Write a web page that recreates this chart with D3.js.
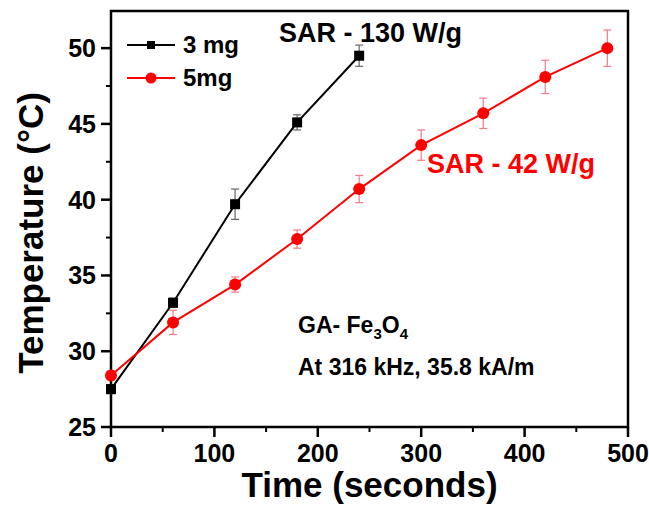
<!DOCTYPE html>
<html>
<head>
<meta charset="utf-8">
<script src="https://cdn.jsdelivr.net/npm/d3@7"></script>
<style>
  body { margin: 0; background: #fff; }
  text { font-family: "Liberation Sans", Arial, sans-serif; font-weight: bold; }
</style>
</head>
<body>
<svg id="chart" width="649" height="508"></svg>
<script>
// Donnees.
const timeValues = [0, 60, 120, 180, 240, 300, 360, 420, 480];
const temp3mg = [27.5, 33.2, 39.7, 45.1, 49.5];
const err3mg = [0.3, 0.3, 1.0, 0.5, 0.7];
const temp5mg = [28.4, 31.9, 34.4, 37.4, 40.7, 43.6, 45.7, 48.1, 50.0];
const err5mg = [0.3, 0.8, 0.5, 0.6, 0.9, 1.0, 1.0, 1.1, 1.2];
const xTicks = [0, 100, 200, 300, 400, 500];
const yTicks = [25, 30, 35, 40, 45, 50];

const svg = d3.select("#chart");
const margin = { left: 111, right: 21, top: 11, bottom: 81 };
const width = 649 - margin.left - margin.right;
const height = 508 - margin.top - margin.bottom;

const x = d3.scaleLinear().domain([0, 500]).range([margin.left, margin.left + width]);
const y = d3.scaleLinear().domain([25, 52.45]).range([margin.top + height, margin.top]);

function makeSeries(values, errors) {
    return values.map(function(v, i) {
        return { t: timeValues[i], v: v, e: errors[i] };
    });
}

const series = [
    { name: "3 mg", data: makeSeries(temp3mg, err3mg), color: "#000", errColor: "#666", shape: "square" },
    { name: "5mg", data: makeSeries(temp5mg, err5mg), color: "#f00", errColor: "#f27a8a", shape: "circle" }
];

// Cadre du graphique.
svg.append("rect")
    .attr("x", margin.left)
    .attr("y", margin.top)
    .attr("width", width)
    .attr("height", height)
    .attr("fill", "none")
    .attr("stroke", "#000")
    .attr("stroke-width", 2.5);

// Axe X : graduations majeures et mineures vers l'exterieur.
const xAxis = svg.append("g").attr("transform", "translate(0," + (margin.top + height) + ")");
xAxis.selectAll(".minor")
    .data(d3.range(50, 500, 100))
    .enter().append("line")
    .attr("x1", d => x(d)).attr("x2", d => x(d))
    .attr("y1", 0).attr("y2", 5)
    .attr("stroke", "#000").attr("stroke-width", 2);
xAxis.selectAll(".major")
    .data(xTicks)
    .enter().append("line")
    .attr("x1", d => x(d)).attr("x2", d => x(d))
    .attr("y1", 0).attr("y2", 10)
    .attr("stroke", "#000").attr("stroke-width", 2.5);
xAxis.selectAll(".tick-label")
    .data(xTicks)
    .enter().append("text")
    .attr("x", d => x(d))
    .attr("y", 35)
    .attr("text-anchor", "middle")
    .attr("font-size", 25)
    .text(d => d);

// Axe Y.
const yAxis = svg.append("g").attr("transform", "translate(" + margin.left + ",0)");
yAxis.selectAll(".minor")
    .data(d3.range(27.5, 52, 5))
    .enter().append("line")
    .attr("y1", d => y(d)).attr("y2", d => y(d))
    .attr("x1", 0).attr("x2", -5)
    .attr("stroke", "#000").attr("stroke-width", 2);
yAxis.selectAll(".major")
    .data(yTicks)
    .enter().append("line")
    .attr("y1", d => y(d)).attr("y2", d => y(d))
    .attr("x1", 0).attr("x2", -10)
    .attr("stroke", "#000").attr("stroke-width", 2.5);
yAxis.selectAll(".tick-label")
    .data(yTicks)
    .enter().append("text")
    .attr("x", -15)
    .attr("y", d => y(d))
    .attr("dy", "0.36em")
    .attr("text-anchor", "end")
    .attr("font-size", 25)
    .text(d => d);

// Titres des axes.
svg.append("text")
    .attr("x", x(250))
    .attr("y", 497)
    .attr("text-anchor", "middle")
    .attr("font-size", 35)
    .text("Time (seconds)");

svg.append("text")
    .attr("transform", "translate(43,233) rotate(-90)")
    .attr("text-anchor", "middle")
    .attr("font-size", 35)
    .text("Temperature (°C)");

// Courbes, barres d'erreur et marqueurs.
const line = d3.line().x(d => x(d.t)).y(d => y(d.v));

series.forEach(function(s) {
    const g = svg.append("g");

    const bars = g.selectAll(".err")
        .data(s.data)
        .enter().append("g")
        .attr("stroke", s.errColor)
        .attr("stroke-width", 1.2);
    bars.append("line")
        .attr("x1", d => x(d.t)).attr("x2", d => x(d.t))
        .attr("y1", d => y(d.v - d.e)).attr("y2", d => y(d.v + d.e));
    bars.append("line")
        .attr("x1", d => x(d.t) - 4).attr("x2", d => x(d.t) + 4)
        .attr("y1", d => y(d.v - d.e)).attr("y2", d => y(d.v - d.e));
    bars.append("line")
        .attr("x1", d => x(d.t) - 4).attr("x2", d => x(d.t) + 4)
        .attr("y1", d => y(d.v + d.e)).attr("y2", d => y(d.v + d.e));

    g.append("path")
        .datum(s.data)
        .attr("d", line)
        .attr("fill", "none")
        .attr("stroke", s.color)
        .attr("stroke-width", 2);

    if (s.shape === "square") {
        g.selectAll(".pt")
            .data(s.data)
            .enter().append("rect")
            .attr("x", d => x(d.t) - 5)
            .attr("y", d => y(d.v) - 5)
            .attr("width", 10)
            .attr("height", 10)
            .attr("fill", s.color);
    } else {
        g.selectAll(".pt")
            .data(s.data)
            .enter().append("circle")
            .attr("cx", d => x(d.t))
            .attr("cy", d => y(d.v))
            .attr("r", 6)
            .attr("fill", s.color);
    }
});

// Legende.
const legend = svg.append("g");
series.forEach(function(s, i) {
    const ly = 45 + i * 33;
    legend.append("line")
        .attr("x1", 127).attr("x2", 175)
        .attr("y1", ly).attr("y2", ly)
        .attr("stroke", s.color).attr("stroke-width", 2);
    if (s.shape === "square") {
        legend.append("rect")
            .attr("x", 147).attr("y", ly - 4)
            .attr("width", 8).attr("height", 8)
            .attr("fill", s.color);
    } else {
        legend.append("circle")
            .attr("cx", 151).attr("cy", ly).attr("r", 5.5)
            .attr("fill", s.color);
    }
    legend.append("text")
        .attr("x", 183)
        .attr("y", ly + 8)
        .attr("font-size", 24)
        .text(s.name);
});

// Annotations.
svg.append("text")
    .attr("x", 279).attr("y", 42)
    .attr("font-size", 27)
    .text("SAR - 130 W/g");

svg.append("text")
    .attr("x", 427).attr("y", 173)
    .attr("font-size", 27)
    .attr("fill", "#f00")
    .text("SAR - 42 W/g");

const note = svg.append("text")
    .attr("x", 298).attr("y", 333)
    .attr("font-size", 23);
note.append("tspan").text("GA- Fe");
note.append("tspan").attr("font-size", 15).attr("dy", 6).text("3");
note.append("tspan").attr("dy", -6).text("O");
note.append("tspan").attr("font-size", 15).attr("dy", 6).text("4");

svg.append("text")
    .attr("x", 298).attr("y", 375)
    .attr("font-size", 23)
    .text("At 316 kHz, 35.8 kA/m");
</script>
</body>
</html>
